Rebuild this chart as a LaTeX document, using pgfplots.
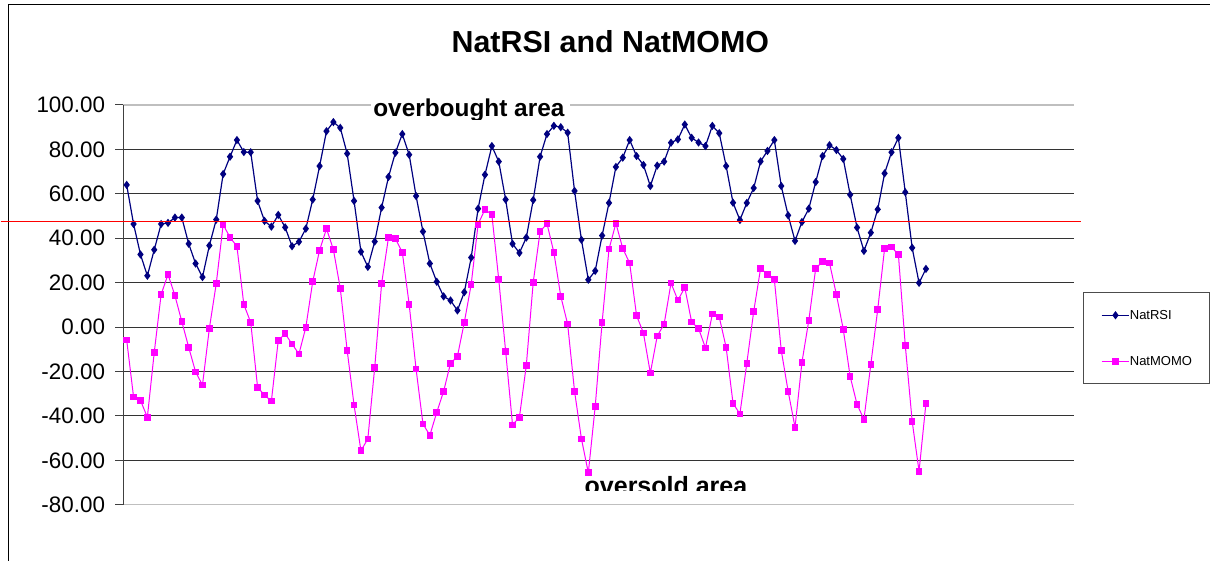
\documentclass[border=0pt]{standalone}
\usepackage{pgfplots}
\pgfplotsset{compat=1.18}
\usepackage{pgfplotstable}
\usepackage{fontspec}
\setmainfont{Liberation Sans}
\definecolor{rsinavy}{RGB}{0,0,128}
\definecolor{momomag}{RGB}{255,0,255}
\definecolor{refred}{RGB}{255,0,0}

\pgfplotstableread{
i v
1 64.0
2 46.4
3 32.7
4 23.1
5 34.8
6 46.4
7 46.9
8 49.3
9 49.3
10 37.5
11 28.6
12 22.5
13 36.7
14 48.4
15 68.9
16 76.7
17 84.2
18 78.8
19 78.7
20 56.8
21 47.8
22 45.2
23 50.5
24 44.9
25 36.4
26 38.4
27 44.3
28 57.4
29 72.5
30 88.2
31 92.3
32 89.7
33 78.1
34 56.8
35 33.9
36 27.1
37 38.5
38 53.8
39 67.6
40 78.5
41 86.9
42 77.6
43 59.0
44 43.0
45 28.6
46 20.4
47 13.8
48 12.0
49 7.5
50 15.7
51 31.3
52 53.3
53 68.6
54 81.5
55 74.5
56 57.4
57 37.5
58 33.4
59 40.3
60 57.2
61 76.7
62 86.9
63 90.6
64 90.0
65 87.5
66 61.3
67 39.3
68 21.3
69 25.3
70 41.2
71 55.9
72 72.1
73 76.3
74 84.2
75 77.0
76 73.0
77 63.5
78 72.7
79 74.5
80 83.0
81 84.5
82 91.2
83 85.2
84 83.1
85 81.5
86 90.6
87 87.3
88 72.5
89 56.0
90 48.2
91 55.9
92 62.6
93 74.6
94 79.3
95 84.2
96 63.5
97 50.3
98 38.8
99 47.3
100 53.3
101 65.3
102 77.0
103 81.9
104 79.7
105 75.7
106 59.6
107 44.8
108 34.3
109 42.5
110 53.0
111 69.2
112 78.7
113 85.2
114 60.7
115 35.7
116 19.9
117 26.2
}\rsitable

\pgfplotstableread{
i v
1 -5.8
2 -31.5
3 -33.0
4 -40.6
5 -11.4
6 14.7
7 23.7
8 14.2
9 2.5
10 -9.1
11 -20.2
12 -26.1
13 -0.6
14 19.6
15 46.1
16 40.4
17 36.3
18 10.2
19 2.1
20 -27.1
21 -30.6
22 -33.3
23 -6.0
24 -3.0
25 -7.6
26 -12.1
27 -0.1
28 20.5
29 34.6
30 44.3
31 34.9
32 17.4
33 -10.5
34 -35.1
35 -55.7
36 -50.3
37 -18.1
38 19.6
39 40.4
40 39.9
41 33.7
42 10.2
43 -18.9
44 -43.6
45 -48.7
46 -38.4
47 -28.9
48 -16.3
49 -13.2
50 2.1
51 19.2
52 46.3
53 53.0
54 50.6
55 21.4
56 -10.9
57 -44.0
58 -40.6
59 -17.2
60 20.1
61 43.0
62 46.6
63 33.6
64 13.9
65 1.3
66 -28.9
67 -50.3
68 -65.6
69 -35.7
70 2.1
71 35.1
72 46.7
73 35.4
74 28.8
75 5.2
76 -2.7
77 -20.7
78 -4.0
79 1.3
80 19.8
81 12.1
82 17.8
83 2.2
84 -0.6
85 -9.4
86 5.8
87 4.5
88 -9.1
89 -34.3
90 -39.1
91 -16.3
92 7.0
93 26.4
94 23.8
95 21.4
96 -10.5
97 -28.9
98 -45.1
99 -15.9
100 3.0
101 26.4
102 29.5
103 28.9
104 14.7
105 -1.0
106 -22.2
107 -34.8
108 -41.5
109 -16.8
110 7.9
111 35.4
112 36.0
113 32.7
114 -8.2
115 -42.4
116 -64.9
117 -34.3
}\momotable

\begin{document}
\begin{tikzpicture}
\begin{scope}[x=0.5pt,y=-0.5pt]
\useasboundingbox (0,0) rectangle (1213,561);
\end{scope}
\begin{axis}[
  at={(61.35pt,-252.5pt)}, anchor=south west,
  scale only axis, width=475.65pt, height=200pt,
  xmin=0.5, xmax=138.5, ymin=-80, ymax=100,
  xtick=\empty,
  ytick={-80,-60,...,100},
  ytick pos=left,
  tick align=outside,
  major tick length=4pt,
  ytick style={black!75, line width=0.5pt},
  axis line style={draw=none},
  ymajorgrids,
  grid style={black!80, line width=0.5pt},
  yticklabel style={font=\fontsize{11.2}{13}\selectfont, xshift=-1.6pt},
  /pgf/number format/assume math mode=true,
  /pgf/number format/.cd, fixed, fixed zerofill, precision=2,
  /pgfplots/.cd,
  legend image code/.code={\draw[mark repeat=2,mark phase=2] plot coordinates {(0pt,0pt)(6.9pt,0pt)(13.8pt,0pt)};},
  legend style={at={(axis description cs:1.0098,0.5318)}, anchor=north west,
    draw=black!70, line width=0.5pt, font=\fontsize{6.5}{7.8}\selectfont,
    inner xsep=8.6pt, inner ysep=9pt, row sep=18.4pt,
    nodes={inner sep=0pt, text height=4.6pt, text depth=0pt},
    /tikz/every even column/.append style={column sep=1.9pt}},
  legend cell align=left,
]
\addplot[rsinavy, line width=0.6pt, mark=diamond*, mark size=1.6pt, mark options={solid}] table[x=i,y=v] {\rsitable};
\addplot[momomag, line width=0.5pt, mark=square*, mark size=1.4pt, mark options={solid}] table[x=i,y=v] {\momotable};
\legend{NatRSI, NatMOMO}
\draw[black!25, line width=0.6pt] (rel axis cs:0,1) -- (rel axis cs:1,1);
\draw[black!25, line width=0.6pt] (rel axis cs:0,0) -- (rel axis cs:1,0);
\draw[black!75, line width=0.6pt] (rel axis cs:0,0) -- (rel axis cs:0,1);
\end{axis}
\begin{scope}[x=0.5pt,y=-0.5pt]
% chart frame
\draw[black, line width=0.75pt] (8,561) -- (8,4.5) -- (1210,4.5);
% red reference line
\draw[refred, line width=0.6pt] (0,221.4) -- (1081,221.4);
% title
\node[anchor=base, inner sep=0pt, font=\fontsize{15.2}{18}\selectfont\bfseries] at (610,53) {NatRSI and NatMOMO};
% annotations
\fill[white] (371,97) rectangle (570,119);
\begin{scope}
\clip (360,90) rectangle (600,119.5);
\node[anchor=base west, inner sep=0pt, font=\fontsize{12.2}{14}\selectfont\bfseries] at (372.5,116.7) {overbought area};
\end{scope}
\begin{scope}
\clip (570,470) rectangle (770,491);
\node[anchor=base west, inner sep=0pt, font=\fontsize{12.5}{14}\selectfont\bfseries] at (584,494.6) {oversold area};
\end{scope}
\end{scope}
\end{tikzpicture}
\end{document}
